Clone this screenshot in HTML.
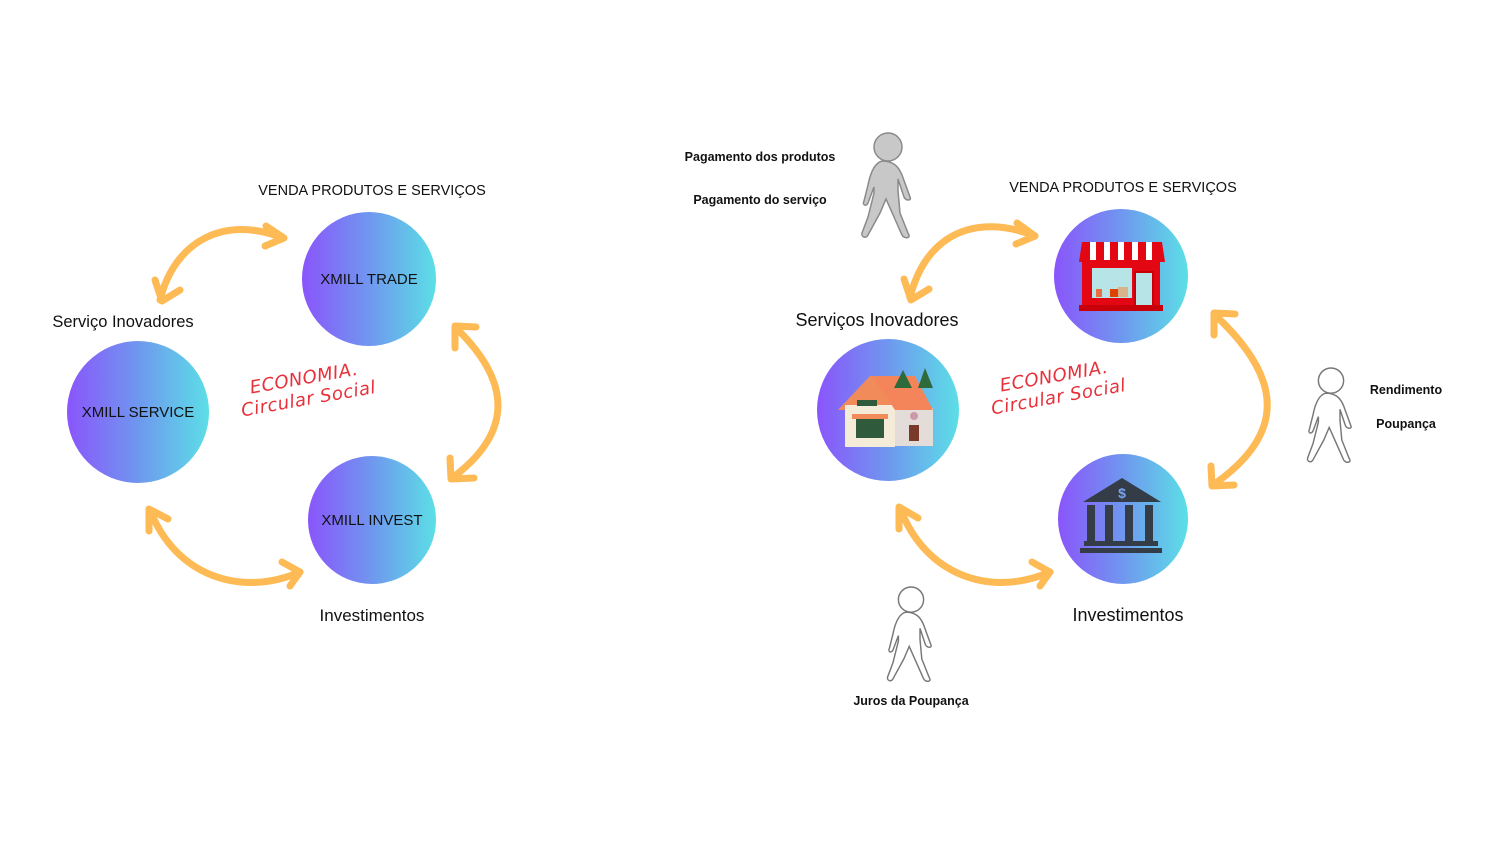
<!DOCTYPE html>
<html><head><meta charset="utf-8"><style>
html,body{margin:0;padding:0;background:#fff;}
body{width:1500px;height:844px;overflow:hidden;position:relative;font-family:"Liberation Sans","DejaVu Sans",sans-serif;}
.t{position:absolute;white-space:nowrap;color:#111;transform:translateX(-50%);}
.b{font-weight:bold;font-size:12.5px;}
.circ{position:absolute;border-radius:50%;background:linear-gradient(90deg,#8a55fb 0%,#6f97ef 50%,#5cdfe6 100%);display:flex;align-items:center;justify-content:center;font-size:15px;color:#111;}
.eco{position:absolute;transform:rotate(-10deg);transform-origin:left top;color:#e8303a;font-family:'DejaVu Sans',sans-serif;font-style:italic;font-size:18px;line-height:21px;font-weight:200;letter-spacing:0.5px;}
</style></head><body>
<svg width="1500" height="844" style="position:absolute;left:0;top:0">
<defs>
<g id="person">
<circle cx="0" cy="-36" r="14"/>
<path d="M-6,-22 C-14,-20 -18,-8 -20,2 L-24,18 C-26,22 -22,24 -20,20 L-14,4 L-14,10 L-20,34 L-26,50 C-27,54 -22,56 -20,52 L-8,30 L-2,16 L6,34 L14,52 C16,56 24,56 20,50 L12,30 L10,8 L10,-4 L16,14 C18,18 24,18 22,14 L14,-8 C10,-18 4,-22 -6,-22 Z"/>
</g>
</defs>
<g fill="none" stroke="#fdba55" stroke-width="7" stroke-linecap="round" stroke-linejoin="round">
<path d="M160,300 C175,240 225,215 283,238"/>
<polyline points="155,280 162,301 180,290"/>
<polyline points="266,226 284,238 265,246"/>
<path d="M456,328 C515,385 510,435 452,478"/>
<polyline points="455,348 455,326 476,327"/>
<polyline points="450,458 451,479 474,478"/>
<path d="M150,510 C175,575 240,598 300,572"/>
<polyline points="149,531 149,509 168,519"/>
<polyline points="282,562 300,572 290,586"/>
<path d="M910,298 C925,235 975,212 1035,236"/>
<polyline points="904,279 911,300 929,289"/>
<polyline points="1017,223 1035,236 1016,244"/>
<path d="M1215,315 C1285,380 1285,435 1213,485"/>
<polyline points="1214,335 1214,313 1235,314"/>
<polyline points="1211,466 1212,486 1234,485"/>
<path d="M900,508 C925,575 990,598 1050,572"/>
<polyline points="899,529 899,507 918,518"/>
<polyline points="1032,562 1050,572 1040,586"/>
</g>
<use href="#person" transform="translate(888,183) scale(1)" fill="#c8c8c8" stroke="#8a8a8a" stroke-width="1.5"/>
<use href="#person" transform="translate(1331,413) scale(0.9)" fill="#fff" stroke="#777" stroke-width="1.6"/>
<use href="#person" transform="translate(911,632) scale(0.9)" fill="#fff" stroke="#777" stroke-width="1.6"/>
</svg>

<div class="t" style="left:372px;top:183px;font-size:14.5px;">VENDA PRODUTOS E SERVIÇOS</div>
<div class="t" style="left:123px;top:313px;font-size:16.5px;">Serviço Inovadores</div>
<div class="t" style="left:372px;top:606px;font-size:17px;">Investimentos</div>
<div class="circ" style="left:302px;top:212px;width:134px;height:134px;">XMILL TRADE</div>
<div class="circ" style="left:67px;top:341px;width:142px;height:142px;">XMILL SERVICE</div>
<div class="circ" style="left:308px;top:456px;width:128px;height:128px;">XMILL INVEST</div>
<div class="eco" style="left:236px;top:380px;">&nbsp;&nbsp;ECONOMIA.<br>Circular Social</div>

<div class="t b" style="left:760px;top:150px;">Pagamento dos produtos</div>
<div class="t b" style="left:760px;top:193px;">Pagamento do serviço</div>
<div class="t" style="left:1123px;top:180px;font-size:14.5px;">VENDA PRODUTOS E SERVIÇOS</div>
<div class="t" style="left:877px;top:310px;font-size:18px;">Serviços Inovadores</div>
<div class="t" style="left:1128px;top:605px;font-size:18px;">Investimentos</div>
<div class="t b" style="left:1406px;top:383px;">Rendimento</div>
<div class="t b" style="left:1406px;top:417px;">Poupança</div>
<div class="t b" style="left:911px;top:694px;">Juros da Poupança</div>
<div class="eco" style="left:986px;top:378px;">&nbsp;&nbsp;ECONOMIA.<br>Circular Social</div>

<div class="circ" style="left:1054px;top:209px;width:134px;height:134px;"></div>
<div class="circ" style="left:817px;top:339px;width:142px;height:142px;"></div>
<div class="circ" style="left:1058px;top:454px;width:130px;height:130px;"></div>

<svg width="1500" height="844" style="position:absolute;left:0;top:0">
<rect x="1082" y="258" width="78" height="52" fill="#e30613"/>
<rect x="1079" y="305" width="84" height="6" fill="#c8000a"/>
<rect x="1092" y="268" width="40" height="30" fill="#b7e4e6"/>
<rect x="1135" y="272" width="18" height="34" fill="#b7e4e6" stroke="#c8000a" stroke-width="2"/>
<rect x="1096" y="289" width="6" height="8" fill="#e87040"/><rect x="1110" y="289" width="8" height="8" fill="#d40"/><rect x="1118" y="287" width="10" height="10" fill="#d9b48a"/>
<path d="M1082,242 L1162,242 L1165,262 L1079,262 Z" fill="#e30613"/>
<g fill="#fff"><rect x="1090" y="242" width="6" height="18"/><rect x="1104" y="242" width="6" height="18"/><rect x="1118" y="242" width="6" height="18"/><rect x="1132" y="242" width="6" height="18"/><rect x="1146" y="242" width="6" height="18"/></g>
<path d="M838,410 L870,376 L900,376 L925,408 Z" fill="#f28b5a"/>
<rect x="845" y="405" width="50" height="42" fill="#f4ecd8"/>
<rect x="895" y="408" width="38" height="38" fill="#e4dcd8"/>
<path d="M872,376 L915,376 L933,410 L895,410 Z" fill="#f4845a"/>
<rect x="856" y="418" width="28" height="20" fill="#2f5a3c"/>
<rect x="852" y="414" width="36" height="5" fill="#f28b5a"/>
<rect x="909" y="425" width="10" height="16" fill="#7a3a2a"/>
<circle cx="914" cy="416" r="4" fill="#c9a"/>
<path d="M903,370 L912,388 L894,388 Z M925,368 L933,388 L918,388 Z" fill="#2f6a3a"/>
<rect x="857" y="400" width="20" height="6" fill="#2f5a3c"/>
<g fill="#343c48">
<path d="M1083,502 L1122,478 L1161,502 Z"/>
<rect x="1087" y="505" width="8" height="36"/><rect x="1105" y="505" width="8" height="36"/><rect x="1125" y="505" width="8" height="36"/><rect x="1145" y="505" width="8" height="36"/>
<rect x="1084" y="541" width="74" height="5"/><rect x="1080" y="548" width="82" height="5"/>
</g>
<text x="1122" y="498" font-family="Liberation Sans" font-weight="bold" font-size="14" fill="#7aa4ee" text-anchor="middle">$</text>
</svg>
</body></html>
